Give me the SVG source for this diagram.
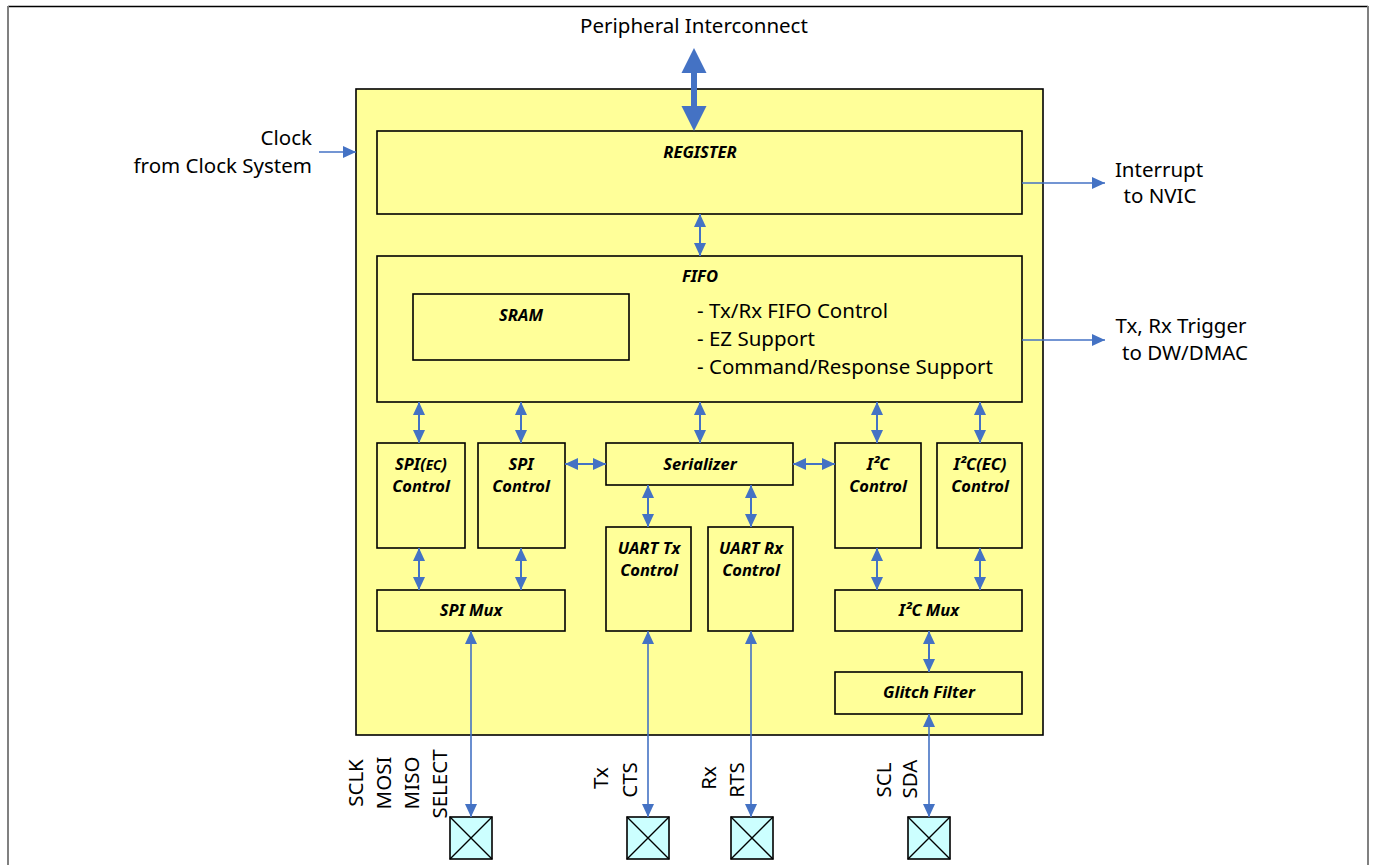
<svg xmlns="http://www.w3.org/2000/svg" width="1375" height="865" viewBox="0 0 1375 865">
<style>
.box{fill:#FFFF99;stroke:#000;stroke-width:1.6}
.pad{fill:#CCFFFF;stroke:#000;stroke-width:1.6}
.b{font-family:"Noto Sans","DejaVu Sans",sans-serif;font-weight:bold;font-style:italic;font-size:16.5px;text-anchor:middle;fill:#000}
.t{font-family:"Noto Sans","DejaVu Sans",sans-serif;font-size:20.5px;fill:#000}
.c{stroke:#4472C4;stroke-width:2;fill:none}
.c1{stroke:#4472C4;stroke-width:1.6;fill:none}
</style>
<defs>
<marker id="ah" viewBox="0 0 13 12" refX="13" refY="6" markerWidth="13" markerHeight="12" markerUnits="userSpaceOnUse" orient="auto-start-reverse">
<path d="M0,0 L13,6 L0,12 z" fill="#4472C4"/>
</marker>
</defs>
<rect width="1375" height="865" fill="#fff"/>
<g id="frame">
<line x1="8" y1="6.5" x2="1368" y2="6.5" stroke="#000" stroke-width="1.5"/>
<line x1="8" y1="6" x2="8" y2="865" stroke="#808080" stroke-width="2"/>
<line x1="1368" y1="6" x2="1368" y2="865" stroke="#808080" stroke-width="2"/>
</g>
<g id="block"><rect class="box" x="356" y="89" width="687" height="646"/></g>
<g id="register"><rect class="box" x="377" y="131" width="645" height="83"/><text class="b" x="700" y="158">REGISTER</text></g>
<g id="fifo"><rect class="box" x="377" y="256" width="645" height="146"/><text class="b" x="700" y="282">FIFO</text>
<text class="t" x="697" y="318">- Tx/Rx FIFO Control</text>
<text class="t" x="697" y="346">- EZ Support</text>
<text class="t" x="697" y="374">- Command/Response Support</text></g>
<g id="sram"><rect class="box" x="413" y="294" width="216" height="66"/><text class="b" x="521" y="321">SRAM</text></g>
<g id="spiec"><rect class="box" x="377" y="443" width="88" height="105"/><text class="b" x="421" y="470">SPI(<tspan font-size="13.5px">EC</tspan>)</text><text class="b" x="421" y="492">Control</text></g>
<g id="spi"><rect class="box" x="478" y="443" width="87" height="105"/><text class="b" x="521" y="470">SPI</text><text class="b" x="521" y="492">Control</text></g>
<g id="serializer"><rect class="box" x="606" y="443" width="187" height="42"/><text class="b" x="700" y="470">Serializer</text></g>
<g id="i2c"><rect class="box" x="835" y="443" width="86" height="105"/><text class="b" x="878" y="470">I²C</text><text class="b" x="878" y="492">Control</text></g>
<g id="i2cec"><rect class="box" x="937" y="443" width="85" height="105"/><text class="b" x="980" y="470">I²C(EC)</text><text class="b" x="980" y="492">Control</text></g>
<g id="uarttx"><rect class="box" x="606" y="527" width="85" height="104"/><text class="b" x="649" y="554">UART Tx</text><text class="b" x="649" y="576">Control</text></g>
<g id="uartrx"><rect class="box" x="708" y="527" width="85" height="104"/><text class="b" x="751" y="554">UART Rx</text><text class="b" x="751" y="576">Control</text></g>
<g id="spimux"><rect class="box" x="377" y="590" width="188" height="41"/><text class="b" x="471" y="616">SPI Mux</text></g>
<g id="i2cmux"><rect class="box" x="835" y="590" width="187" height="41"/><text class="b" x="929" y="616">I²C Mux</text></g>
<g id="glitch"><rect class="box" x="835" y="672" width="187" height="42"/><text class="b" x="929" y="698">Glitch Filter</text></g>
<g id="pads">
<g id="pad-spi"><rect class="pad" x="450" y="817" width="42" height="42"/><path d="M450,817 L492,859 M492,817 L450,859" stroke="#000" stroke-width="1.4"/></g>
<g id="pad-tx"><rect class="pad" x="627" y="817" width="42" height="42"/><path d="M627,817 L669,859 M669,817 L627,859" stroke="#000" stroke-width="1.4"/></g>
<g id="pad-rx"><rect class="pad" x="731" y="817" width="42" height="42"/><path d="M731,817 L773,859 M773,817 L731,859" stroke="#000" stroke-width="1.4"/></g>
<g id="pad-i2c"><rect class="pad" x="908" y="817" width="42" height="42"/><path d="M908,817 L950,859 M950,817 L908,859" stroke="#000" stroke-width="1.4"/></g>
</g>
<g id="labels">
<text class="t" x="694" y="33" text-anchor="middle">Peripheral Interconnect</text>
<text class="t" x="312" y="145" text-anchor="end">Clock</text>
<text class="t" x="312" y="173" text-anchor="end">from Clock System</text>
<text class="t" x="1159" y="177" text-anchor="middle">Interrupt</text>
<text class="t" x="1160" y="203" text-anchor="middle">to NVIC</text>
<text class="t" x="1181" y="333" text-anchor="middle">Tx, Rx Trigger</text>
<text class="t" x="1185" y="360" text-anchor="middle">to DW/DMAC</text>
<text class="t" text-anchor="middle" transform="translate(363,783) rotate(-90)">SCLK</text>
<text class="t" text-anchor="middle" transform="translate(391,783) rotate(-90)">MOSI</text>
<text class="t" text-anchor="middle" transform="translate(419,783) rotate(-90)">MISO</text>
<text class="t" text-anchor="middle" transform="translate(447,784) rotate(-90)">SELECT</text>
<text class="t" text-anchor="middle" transform="translate(608,778) rotate(-90)">Tx</text>
<text class="t" text-anchor="middle" transform="translate(637,780) rotate(-90)">CTS</text>
<text class="t" text-anchor="middle" transform="translate(716,778) rotate(-90)">Rx</text>
<text class="t" text-anchor="middle" transform="translate(744,780) rotate(-90)">RTS</text>
<text class="t" text-anchor="middle" transform="translate(891,780) rotate(-90)">SCL</text>
<text class="t" text-anchor="middle" transform="translate(917,779) rotate(-90)">SDA</text>
</g>
<g id="connectors">
<path d="M694,48 L706.5,73 L697,73 L697,106 L706.5,106 L694,131 L681.5,106 L691,106 L691,73 L681.5,73 z" fill="#4472C4"/>
<line class="c1" x1="319" y1="152" x2="356" y2="152" marker-end="url(#ah)"/>
<line class="c1" x1="1022" y1="183" x2="1105" y2="183" marker-end="url(#ah)"/>
<line class="c1" x1="1022" y1="340" x2="1105" y2="340" marker-end="url(#ah)"/>
<line class="c" x1="700" y1="214" x2="700" y2="256" marker-start="url(#ah)" marker-end="url(#ah)"/>
<line class="c" x1="419" y1="402" x2="419" y2="443" marker-start="url(#ah)" marker-end="url(#ah)"/>
<line class="c" x1="521" y1="402" x2="521" y2="443" marker-start="url(#ah)" marker-end="url(#ah)"/>
<line class="c" x1="700" y1="402" x2="700" y2="443" marker-start="url(#ah)" marker-end="url(#ah)"/>
<line class="c" x1="877" y1="402" x2="877" y2="443" marker-start="url(#ah)" marker-end="url(#ah)"/>
<line class="c" x1="980" y1="402" x2="980" y2="443" marker-start="url(#ah)" marker-end="url(#ah)"/>
<line class="c" x1="565" y1="464" x2="606" y2="464" marker-start="url(#ah)" marker-end="url(#ah)"/>
<line class="c" x1="793" y1="464" x2="835" y2="464" marker-start="url(#ah)" marker-end="url(#ah)"/>
<line class="c" x1="648" y1="485" x2="648" y2="527" marker-start="url(#ah)" marker-end="url(#ah)"/>
<line class="c" x1="751" y1="485" x2="751" y2="527" marker-start="url(#ah)" marker-end="url(#ah)"/>
<line class="c" x1="419" y1="548" x2="419" y2="590" marker-start="url(#ah)" marker-end="url(#ah)"/>
<line class="c" x1="521" y1="548" x2="521" y2="590" marker-start="url(#ah)" marker-end="url(#ah)"/>
<line class="c" x1="877" y1="548" x2="877" y2="590" marker-start="url(#ah)" marker-end="url(#ah)"/>
<line class="c" x1="980" y1="548" x2="980" y2="590" marker-start="url(#ah)" marker-end="url(#ah)"/>
<line class="c" x1="929" y1="631" x2="929" y2="672" marker-start="url(#ah)" marker-end="url(#ah)"/>
<line class="c1" x1="471" y1="631" x2="471" y2="817" marker-start="url(#ah)" marker-end="url(#ah)"/>
<line class="c1" x1="648" y1="631" x2="648" y2="817" marker-start="url(#ah)" marker-end="url(#ah)"/>
<line class="c1" x1="751" y1="631" x2="751" y2="817" marker-start="url(#ah)" marker-end="url(#ah)"/>
<line class="c1" x1="929" y1="714" x2="929" y2="817" marker-start="url(#ah)" marker-end="url(#ah)"/>
</g>
</svg>
